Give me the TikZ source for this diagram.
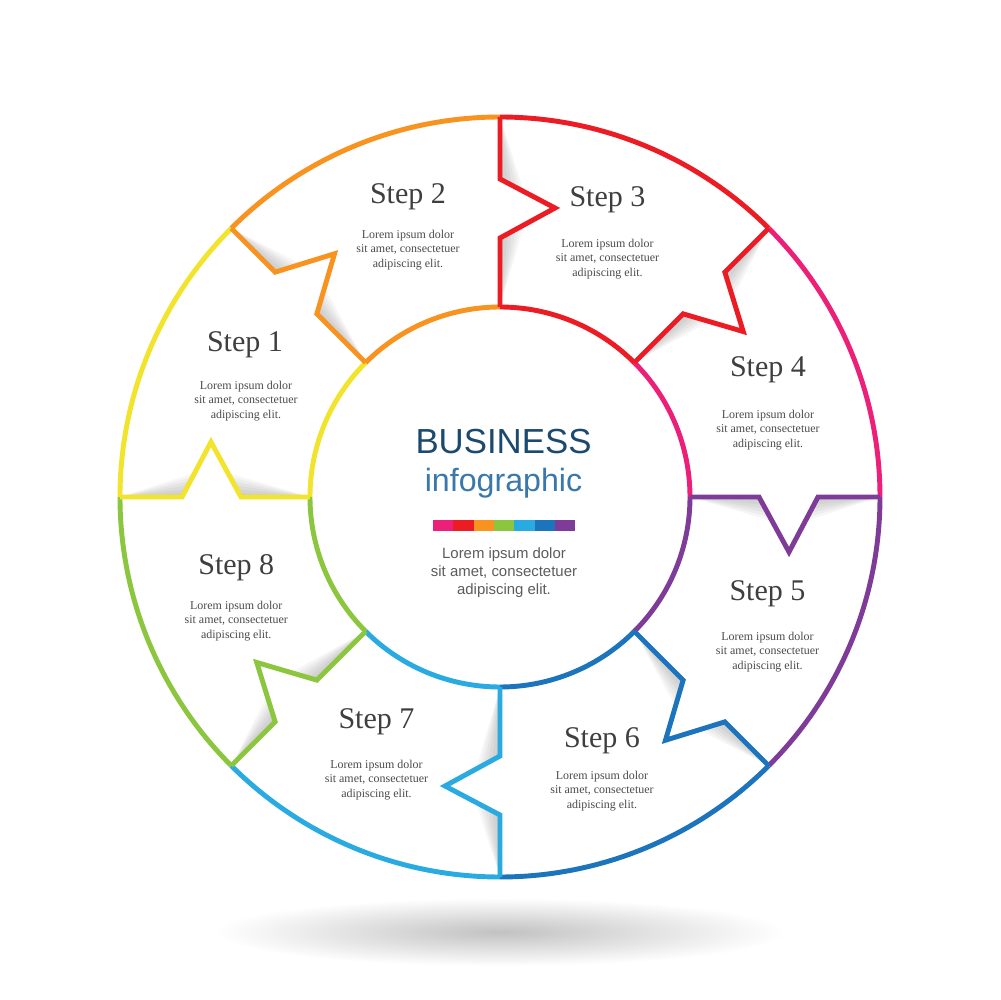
\documentclass[tikz,border=0pt]{standalone}
\usepackage{fontspec}
\setmainfont{Liberation Serif}
\newfontfamily\infofont{Liberation Sans}
\definecolor{stepyellow}{HTML}{F2E42C}
\definecolor{steporange}{HTML}{F7931E}
\definecolor{stepred}{HTML}{EC1C24}
\definecolor{steppink}{HTML}{EC2079}
\definecolor{steppurple}{HTML}{7E3C98}
\definecolor{stepdblue}{HTML}{1C75BC}
\definecolor{steplblue}{HTML}{29ABE2}
\definecolor{stepgreen}{HTML}{8CC63F}
\definecolor{titleblue}{HTML}{1B4A6E}
\definecolor{subblue}{HTML}{3A78AB}
\definecolor{labelgray}{HTML}{3F3F3F}
\definecolor{bodygray}{HTML}{4A4A4A}
\tikzstyle{ring} = [line width=2.8pt]
\tikzstyle{papershadow} = [black, opacity=0.035]
\tikzstyle{steplabel} = [anchor=base, text=labelgray, font=\fontsize{17.1}{20}\selectfont]
\tikzstyle{steptext} = [align=center, text=bodygray, font=\fontsize{6.8}{8.25}\selectfont]
\tikzstyle{infotitle} = [anchor=base, text=titleblue, font=\infofont\fontsize{19.8}{24}\selectfont]
\tikzstyle{infosub} = [anchor=base, text=subblue, font=\infofont\fontsize{18.3}{22}\selectfont]
\tikzstyle{infotext} = [align=center, text=bodygray!90, font=\infofont\fontsize{8.5}{10.3}\selectfont]

\begin{document}
\begin{tikzpicture}[x=0.02cm, y=0.02cm]
        \useasboundingbox[fill=white] (-500,-503) rectangle (500,497);

        % shadow under the ring
        \shade[inner color=black!24, outer color=white] (0,-435) ellipse [x radius=285, y radius=34];

        % soft shadows along the cuts
        \foreach \a in {180,135,90,45,0,-45,-90,-135} {
            \begin{scope}[rotate=\a]
                \foreach \h in {4,8,...,24}
                    \fill [papershadow] (380,0) -- (318,0) -- ({318-29*\h/55},-\h) -- cycle
                        (190,0) -- (259,0) -- ({259+30*\h/55},-\h) -- cycle;
            \end{scope}
        }

        % arcs of the pieces
        \foreach \a/\c in {180/stepyellow, 135/steporange, 90/stepred, 45/steppink, 0/steppurple, -45/stepdblue, -90/steplblue, -135/stepgreen} {
            \draw [ring, \c] (\a:380) arc [start angle=\a, end angle=\a-45, radius=380];
            \draw [ring, \c] (\a:190) arc [start angle=\a, end angle=\a-45, radius=190];
        }

        % cuts between the pieces
        \foreach \a/\c in {180/stepyellow, 135/steporange, 90/stepred, 45/stepred, 0/steppurple, -45/stepdblue, -90/steplblue, -135/stepgreen}
            \draw [ring, \c, rotate=\a] (190,0) -- (259,0) -- (289,-55) -- (318,0) -- (380,0);

        \node (step1) [steplabel] at (-255,145) {Step 1};
        \node (text1) [steptext] at (-254,96) {Lorem ipsum dolor\\ sit amet, consectetuer\\ adipiscing elit.};
        \node (step2) [steplabel] at (-92,293) {Step 2};
        \node (text2) [steptext] at (-92,247) {Lorem ipsum dolor\\ sit amet, consectetuer\\ adipiscing elit.};
        \node (step3) [steplabel] at (107.5,290) {Step 3};
        \node (text3) [steptext] at (107.5,238) {Lorem ipsum dolor\\ sit amet, consectetuer\\ adipiscing elit.};
        \node (step4) [steplabel] at (268,120) {Step 4};
        \node (text4) [steptext] at (268,67) {Lorem ipsum dolor\\ sit amet, consectetuer\\ adipiscing elit.};
        \node (step5) [steplabel] at (267.5,-103) {Step 5};
        \node (text5) [steptext] at (267.5,-155) {Lorem ipsum dolor\\ sit amet, consectetuer\\ adipiscing elit.};
        \node (step6) [steplabel] at (102,-250) {Step 6};
        \node (text6) [steptext] at (102,-294) {Lorem ipsum dolor\\ sit amet, consectetuer\\ adipiscing elit.};
        \node (step7) [steplabel] at (-123.5,-231) {Step 7};
        \node (text7) [steptext] at (-123.5,-283) {Lorem ipsum dolor\\ sit amet, consectetuer\\ adipiscing elit.};
        \node (step8) [steplabel] at (-263.7,-77) {Step 8};
        \node (text8) [steptext] at (-263.7,-124) {Lorem ipsum dolor\\ sit amet, consectetuer\\ adipiscing elit.};

        % centre of the ring
        \node (business) [infotitle] at (3.5,43) {BUSINESS};
        \node (infographic) [infosub] at (3.5,5) {infographic};
        \foreach \c [count=\i from 0] in {steppink, stepred, steporange, stepgreen, steplblue, stepdblue, steppurple}
            \fill [\c] ({-67+20.33*\i},-23) rectangle ({-67+20.33*(\i+1)},-34);
        \node (centretext) [infotext] at (4,-76) {Lorem ipsum dolor\\ sit amet, consectetuer\\ adipiscing elit.};
    \end{tikzpicture}
\end{document}
